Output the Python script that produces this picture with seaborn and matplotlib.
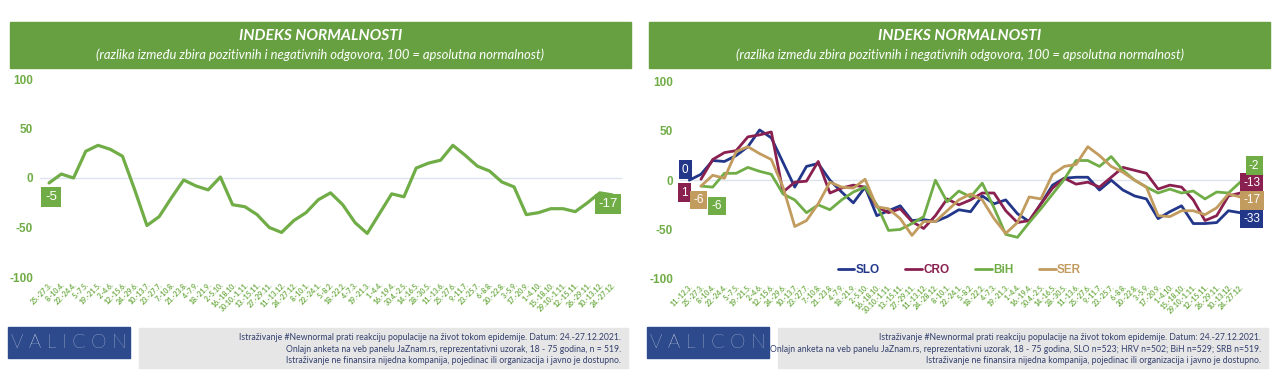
import numpy as np
import pandas as pd
import matplotlib.pyplot as plt
import seaborn as sns
from matplotlib.patches import Rectangle

# ---- data ----
left_labels = ['25.-27.3.', '8.-10.4.', '22.-24.4.', '5.-7.5.', '19.-21.5.', '2.-4.6.', '12.-15.6.',
               '24.-29.6.', '10.-13.7.', '23.-27.7.', '7.-10.8.', '21.-23.8.', '4.-7.9.', '18.-21.9.',
               '2.-5.10.', '16.-18.10.', '30.10.-1.11.', '13.-15.11.', '27.-29.11.', '11.-13.12.',
               '24.-27.12.', '8.-10.1.', '22.-24.1.', '5.-8.2.', '18.-22.2.', '4.-7.3.', '19.-21.3.',
               '1.-4.4.', '16.-19.4.', '30.4.-2.5.', '14.-16.5.', '28.-30.5.', '11.-13.6.', '25.-27.6.',
               '9.-11.7.', '23.-25.7.', '6.-8.8.', '20.-22.8.', '3.-5.9.', '17.-20.9.', '1.-4.10.',
               '15.-18.10.', '29.10.-1.11.', '12.-15.11.', '26.-29.11.', '10.-13.12.', '24.-27.12.']
left_vals = [-5, 4, 0, 27, 33, 29, 22, -12, -48, -39, -20, -2, -8, -12, 1, -27, -29, -37, -50, -55,
             -43, -35, -22, -15, -27, -45, -56, -36, -16, -19, 10, 15, 18, 33, 23, 12, 7, -4, -9, -37,
             -35, -31, -31, -34, -25, -15, -17]

right_labels = ['11.-12.3.'] + left_labels[:20] + ['24.-28.12.'] + left_labels[21:]
slo = [0, 6, 20, 19, 25, 34, 51, 43, 18, -7, 14, 17, 0, -12, -23, -7, -36, -31, -26, -41,
       -40, -42, -37, -30, -32, -16, -24, -20, -34, -42, -24, -5, 2, 3, 3, -10, 0, -10, -16, -19,
       -39, -32, -26, -44, -44, -43, -31, -33]
cro = [None, 1, 21, 28, 30, 44, 46, 49, -12, -2, -1, 19, -13, -8, -5, -7, -27, -33, -29, -42,
       -49, -36, -19, -25, -20, -13, -13, -31, -43, -41, -24, -8, 2, -4, -2, -7, 3, 13, 10, 7,
       -9, -5, -7, -20, -41, -36, -16, -13]
bih = [None, -6, -7, 7, 7, 13, 9, 6, -14, -20, -33, -25, -30, -20, -12, -7, -25, -51, -50, -44,
       -37, 0, -22, -11, -17, -3, -28, -55, -58, -43, -29, -14, 1, 20, 20, 14, 24, 10, 0, -7,
       -13, -9, -13, -11, -19, -12, -13, -2]
ser = [None, -6, 5, 2, 29, 34, 27, 21, -7, -47, -41, -24, -2, -7, -8, 1, -27, -29, -39, -56,
       -42, -42, -31, -20, -14, -20, -39, -54, -43, -17, -19, 6, 14, 16, 34, 25, 14, 8, 0, -7,
       -36, -37, -31, -31, -35, -28, -14, -17]
countries = ['SLO', 'CRO', 'BiH', 'SER']

GREEN = '#70AD47'
HEAD = '#67A041'
NAVY = '#22378A'
MAROON = '#8A2050'
TAN = '#C29B5E'
colors = {'SLO': NAVY, 'CRO': MAROON, 'BiH': GREEN, 'SER': TAN}

sns.set_theme(style='white')
plt.rcParams['font.family'] = ['Lato', 'DejaVu Sans']

W, H = 1280, 377
fig = plt.figure(figsize=(12.8, 3.77), dpi=100)


def px_axes(left, top, right, bottom):
    return fig.add_axes([left / W, 1 - bottom / H, (right - left) / W, (bottom - top) / H])


def rect(x0, y0, x1, y1, color):
    fig.patches.append(Rectangle((x0 / W, 1 - y1 / H), (x1 - x0) / W, (y1 - y0) / H,
                                 transform=fig.transFigure, color=color, zorder=0))


def header(x0, x1):
    rect(x0, 22, x1, 68, HEAD)
    cx = (x0 + x1) / 2 / W
    fig.text(cx, 1 - 36.5 / H, 'INDEKS NORMALNOSTI', color='white', ha='center', va='center',
             fontsize=11.2, fontweight='bold', fontstyle='italic')
    fig.text(cx, 1 - 54.5 / H,
             '(razlika između zbira pozitivnih i negativnih odgovora, 100 = apsolutna normalnost)',
             color='white', ha='center', va='center', fontsize=9.4, fontstyle='italic')


def footer(x0, x1, lines):
    rect(x0, 327, x0 + 122, 358, '#2D4A8D')
    fig.text((x0 + 61) / W, 1 - 342.5 / H, 'V A L I C O N', color='white', ha='center',
             va='center', fontsize=14, fontweight='light')
    rect(x0 + 131, 328, x1, 368, '#E6E6E6')
    for k, line in enumerate(lines):
        fig.text((x1 - 7) / W, 1 - (337.5 + 11.5 * k) / H, line, color='#34406E', ha='right',
                 va='center', fontsize=6.2)


def style_axes(ax, labels):
    ax.set_ylim(-100, 100)
    ax.set_yticks([-100, -50, 0, 50, 100])
    ax.set_yticklabels(['-100', '-50', '0', '50', '100'], color=GREEN, fontsize=8.5,
                       fontweight='bold', fontfamily=['Liberation Sans', 'DejaVu Sans'])
    ax.set_xticks(range(len(labels)))
    ax.set_xticklabels(labels, rotation=45, ha='right', rotation_mode='anchor', color=GREEN,
                       fontsize=5, fontweight='bold')
    ax.tick_params(axis='x', length=0, pad=3)
    ax.tick_params(axis='y', length=0, pad=5)
    ax.axhline(0, color='#DCE3EE', lw=1, zorder=0)
    ax.set_xlabel('')
    ax.set_ylabel('')
    sns.despine(ax=ax, left=True, bottom=True)


def tag(ax, x, y, text, color, dx, dy, size=8.5):
    ax.annotate(text, xy=(x, y), xytext=(dx, dy), textcoords='offset pixels', ha='center',
                va='center', color='white', fontsize=size,
                fontfamily=['Liberation Sans', 'DejaVu Sans'],
                bbox=dict(boxstyle='square,pad=0.28', fc=color, ec='none'), zorder=5)


# ---- left panel ----
header(10, 631)
axl = px_axes(40, 79, 622, 277)
dl = pd.DataFrame({'idx': range(len(left_vals)), 'val': left_vals})
sns.lineplot(data=dl, x='idx', y='val', ax=axl, color=GREEN, lw=2.3, solid_joinstyle='round',
             solid_capstyle='round')
axl.set_xlim(-0.74, len(left_vals) - 1 + 0.82)
style_axes(axl, left_labels)
tag(axl, 0, left_vals[0], str(left_vals[0]), GREEN, 2, -14, size=9.5)
tag(axl, len(left_vals) - 1, left_vals[-1], str(left_vals[-1]), GREEN, -4, -9, size=9.5)
footer(8, 628, ['Istraživanje #Newnormal prati reakciju populacije na život tokom epidemije. Datum: 24.-27.12.2021.',
                'Onlajn anketa na veb panelu JaZnam.rs, reprezentativni uzorak, 18 - 75 godina, n = 519.',
                'Istraživanje ne finansira nijedna kompanija, pojedinac ili organizacija i javno je dostupno.'])

# ---- right panel ----
header(649, 1270)
axr = px_axes(680, 81.7, 1250, 278.7)
dr = pd.DataFrame({'idx': range(len(slo)), 'SLO': slo, 'CRO': cro, 'BiH': bih, 'SER': ser})
dr = dr.melt(id_vars='idx', var_name='country', value_name='val').dropna()
sns.lineplot(data=dr, x='idx', y='val', hue='country', hue_order=countries, palette=colors,
             ax=axr, lw=2)
axr.set_xlim(-0.79, len(slo) - 1 + 0.84)
style_axes(axr, right_labels)
leg = axr.legend(loc='center', bbox_to_anchor=(0.49, 0.045), ncol=4, frameon=False,
                 handlelength=1.4, handletextpad=0.1, columnspacing=2.2,
                 prop={'weight': 'bold', 'size': 8.5, 'family': ['Liberation Sans', 'DejaVu Sans']})
for txt, c in zip(leg.get_texts(), countries):
    txt.set_color(colors[c])
series = {'SLO': slo, 'CRO': cro, 'BiH': bih, 'SER': ser}
start_off = {'SLO': (0, (-4, 10.5)), 'CRO': (1, (-16.5, -13.5)), 'SER': (1, (-2.5, -14)),
             'BiH': (1, (16, -20))}
end_off = {'BiH': (14, 16.5), 'CRO': (11.5, 10.5), 'SER': (11.5, -3.5), 'SLO': (11.5, -6)}
for c in countries:
    i0, off = start_off[c]
    tag(axr, i0, series[c][i0], str(series[c][i0]), colors[c], *off)
    last = len(series[c]) - 1
    tag(axr, last, series[c][last], str(series[c][last]), colors[c], *end_off[c])
footer(647, 1268, ['Istraživanje #Newnormal prati reakciju populacije na život tokom epidemije. Datum: 24.-27.12.2021.',
                   'Onlajn anketa na veb panelu JaZnam.rs, reprezentativni uzorak, 18 - 75 godina, SLO n=523; HRV n=502; BiH n=529; SRB n=519.',
                   'Istraživanje ne finansira nijedna kompanija, pojedinac ili organizacija i javno je dostupno.'])

fig.savefig('out.png', dpi=100)
